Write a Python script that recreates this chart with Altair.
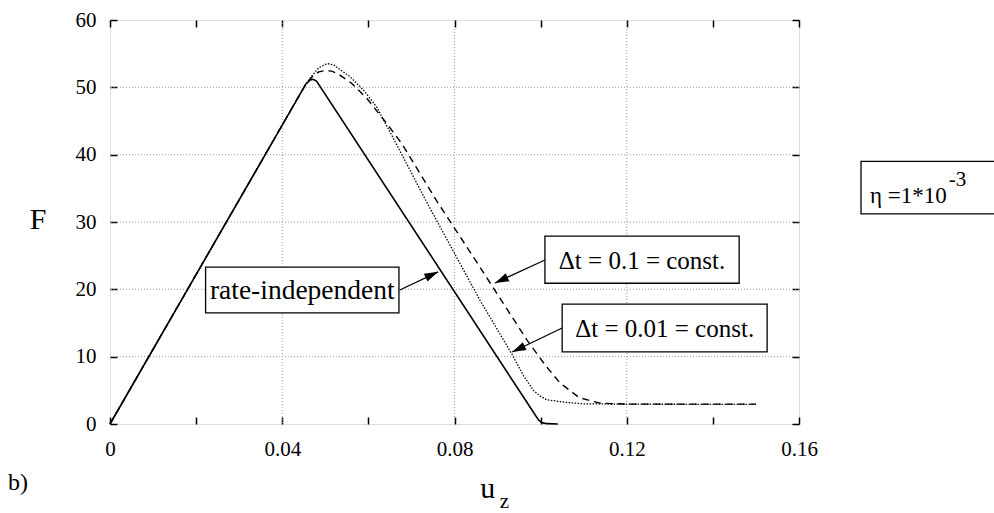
import altair as alt
import pandas as pd

# ---- data ----
u_rate = [0, 0.0455, 0.0465, 0.0472, 0.0480, 0.0995, 0.1003, 0.1015, 0.1040]
F_rate = [0, 50.5, 51.1, 51.2, 50.9, 0.6, 0.2, 0.05, 0.0]

u_dt1 = [0, 0.0455, 0.0470, 0.0485, 0.0500, 0.0515, 0.0530, 0.0561, 0.0596, 0.0643,
         0.0678, 0.0760, 0.0852, 0.0968, 0.1010, 0.1045, 0.1090, 0.1138, 0.1200, 0.1500]
F_dt1 = [0, 50.5, 51.6, 52.3, 52.5, 52.4, 52.0, 50.6, 48.4, 44.6,
         41.6, 33.0, 24.0, 12.5, 8.8, 6.1, 3.9, 3.1, 2.95, 2.95]

u_dt01 = [0, 0.0455, 0.0470, 0.0485, 0.0500, 0.0507, 0.0520, 0.0557, 0.0590, 0.0619,
          0.0655, 0.0730, 0.0808, 0.0859, 0.0934, 0.0960, 0.0983, 0.1000, 0.1014,
          0.1060, 0.1100, 0.1200, 0.1500]
F_dt01 = [0, 50.5, 51.8, 52.9, 53.4, 53.5, 53.3, 51.6, 49.5, 47.1,
          42.8, 33.6, 24.4, 18.4, 10.3, 7.2, 5.0, 4.1, 3.6,
          3.2, 3.0, 2.95, 2.9]

x_ticks = [0, 0.02, 0.04, 0.06, 0.08, 0.10, 0.12, 0.14, 0.16]
y_ticks = [0, 10, 20, 30, 40, 50, 60]
grid_u = [0.04, 0.08, 0.12]
grid_F = [10, 20, 30, 40, 50]

# annotation boxes (data coords)
box_text = ["rate-independent", "\u0394t = 0.1 = const.", "\u0394t = 0.01 = const."]
box_u0 = [0.0222, 0.1010, 0.1050]
box_u1 = [0.0671, 0.1461, 0.1526]
box_F0 = [16.5, 20.9, 10.7]
box_F1 = [23.3, 27.9, 17.8]
box_size = [27.5, 25, 25]

# arrows: start -> tip
arr_u0 = [0.0673, 0.1010, 0.1050]
arr_F0 = [19.9, 24.36, 14.26]
arr_u1 = [0.0762, 0.0894, 0.0934]
arr_F1 = [22.6, 20.94, 10.69]
arr_ang = [64.7, 245.3, 244.4]

FONT = "Liberation Serif, 'Times New Roman', Times, 'DejaVu Serif', serif"

xs = alt.Scale(domain=[0, 0.16], nice=False, zero=False)
ys = alt.Scale(domain=[0, 60], nice=False, zero=False)

axis_common = dict(
    grid=False, domain=False, offset=-7, tickSize=7, tickWidth=1.5,
    tickColor="black", labelFont=FONT, labelFontSize=21, labelColor="black",
    title=None,
)
x_axis_b = alt.Axis(orient="bottom", values=x_ticks, format="~g",
                    labelExpr="round(datum.value*100) % 4 == 0 ? datum.label : ''",
                    labelPadding=14, labelFlush=False, labelOverlap=False, **axis_common)
y_axis_l = alt.Axis(orient="left", values=y_ticks, labelPadding=14, **axis_common)
x_axis_t = alt.Axis(orient="top", values=x_ticks, labels=False, **axis_common)
y_axis_r = alt.Axis(orient="right", values=y_ticks, labels=False, **axis_common)

df_rate = pd.DataFrame({"u": u_rate, "F": F_rate})
df_dt1 = pd.DataFrame({"u": u_dt1, "F": F_dt1})
df_dt01 = pd.DataFrame({"u": u_dt01, "F": F_dt01})

gx = alt.Chart(pd.DataFrame({"u": grid_u})).mark_rule(
    color="#9a9a9a", strokeDash=[1, 2], strokeWidth=1
).encode(x=alt.X("u:Q", scale=xs, axis=None))
gy = alt.Chart(pd.DataFrame({"F": grid_F})).mark_rule(
    color="#9a9a9a", strokeDash=[1, 2], strokeWidth=1
).encode(y=alt.Y("F:Q", scale=ys, axis=None))

line_rate = alt.Chart(df_rate).mark_line(color="black", strokeWidth=1.6).encode(
    x=alt.X("u:Q", scale=xs, axis=x_axis_b),
    y=alt.Y("F:Q", scale=ys, axis=y_axis_l),
)
line_dt1 = alt.Chart(df_dt1).mark_line(color="black", strokeWidth=1.4, strokeDash=[7, 5]).encode(
    x=alt.X("u:Q", scale=xs, axis=x_axis_t),
    y=alt.Y("F:Q", scale=ys, axis=y_axis_r),
)
line_dt01 = alt.Chart(df_dt01).mark_line(color="black", strokeWidth=1.3, strokeDash=[1.5, 1.5]).encode(
    x=alt.X("u:Q", scale=xs, axis=None),
    y=alt.Y("F:Q", scale=ys, axis=None),
)

df_arr = pd.DataFrame({"u0": arr_u0, "F0": arr_F0, "u1": arr_u1, "F1": arr_F1, "ang": arr_ang})
arrows = alt.Chart(df_arr).mark_rule(color="black", strokeWidth=1.3).encode(
    x=alt.X("u0:Q", scale=xs, axis=None), y=alt.Y("F0:Q", scale=ys, axis=None),
    x2="u1:Q", y2="F1:Q",
)
heads = alt.Chart(df_arr).mark_point(
    shape="M0,0L-0.62,2L0.62,2Z", filled=True, color="black", opacity=1, size=190
).encode(
    x=alt.X("u1:Q", scale=xs, axis=None), y=alt.Y("F1:Q", scale=ys, axis=None),
    angle=alt.Angle("ang:Q", scale=None),
)

df_box = pd.DataFrame({"t": box_text, "u0": box_u0, "u1": box_u1, "F0": box_F0, "F1": box_F1,
                       "uc": [(a + b) / 2 for a, b in zip(box_u0, box_u1)],
                       "Fc": [(a + b) / 2 for a, b in zip(box_F0, box_F1)],
                       "s": box_size})
boxes = alt.Chart(df_box).mark_rect(fill="white", stroke="black", strokeWidth=1.3).encode(
    x=alt.X("u0:Q", scale=xs, axis=None), y=alt.Y("F0:Q", scale=ys, axis=None),
    x2="u1:Q", y2="F1:Q",
)
box_labels = alt.Chart(df_box).mark_text(font=FONT, color="black", baseline="middle", dy=1).encode(
    x=alt.X("uc:Q", scale=xs, axis=None), y=alt.Y("Fc:Q", scale=ys, axis=None),
    text="t:N", size=alt.Size("s:Q", scale=None),
)

# eta box outside the plot
df_eta = pd.DataFrame({"u0": [0.1744], "u1": [0.2070], "F0": [31.2], "F1": [39.0]})
eta_box = alt.Chart(df_eta).mark_rect(fill="white", stroke="black", strokeWidth=1.3).encode(
    x=alt.X("u0:Q", scale=xs, axis=None), y=alt.Y("F0:Q", scale=ys, axis=None),
    x2="u1:Q", y2="F1:Q",
)

txt = pd.DataFrame({
    "t": ["\u03b7 =1*10", "-3", "F", "u", "z", "b)"],
    "u": [0.1765, 0.1948, -0.0167, 0.0860, 0.0905, -0.0237],
    "F": [32.8, 35.4, 30.3, -11.0, -12.5, -9.8],
    "s": [23, 21, 30, 30, 21, 24],
    "a": ["left", "left", "center", "left", "left", "left"],
    "b": ["alphabetic", "alphabetic", "middle", "alphabetic", "alphabetic", "alphabetic"],
})
texts = []
for i in range(len(txt)):
    texts.append(
        alt.Chart(txt.iloc[[i]]).mark_text(
            font=FONT, color="black", align=txt["a"][i], baseline=txt["b"][i],
            fontSize=float(txt["s"][i])
        ).encode(
            x=alt.X("u:Q", scale=xs, axis=None), y=alt.Y("F:Q", scale=ys, axis=None),
            text="t:N",
        )
    )

chart = alt.layer(
    gx, gy, line_rate, line_dt1, line_dt01, arrows, heads, boxes, box_labels, eta_box, *texts
).resolve_axis(x="independent", y="independent").properties(
    width=689, height=404,
    autosize=alt.AutoSizeParams(type="none"),
    padding={"left": 110, "top": 20, "right": 195, "bottom": 89},
).configure_view(stroke="black", strokeWidth=2).configure(background="white")

chart.save("out.html", embed_options={"renderer": "svg", "actions": False})
